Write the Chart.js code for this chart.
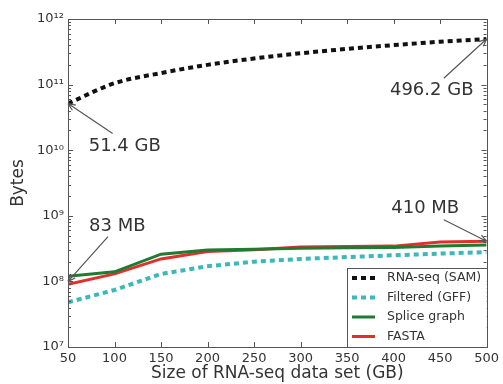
<!DOCTYPE html>
<html>
<head>
<meta charset="utf-8">
<script src="https://cdn.jsdelivr.net/npm/chart.js@4"></script>
<style>
  html, body { margin: 0; padding: 0; background: #fff; }
  #wrap { width: 503px; height: 384px; }
</style>
</head>
<body>
<div id="wrap"><canvas id="sizeChart"></canvas></div>
<script>
// x positions (GB of RNA-seq data)
const sizes = [50, 100, 150, 200, 250, 300, 350, 400, 450, 500];
// bytes
const samBytes = [51.4e9, 105e9, 150e9, 200e9, 250e9, 300e9, 350e9, 400e9, 450e9, 496.2e9];
const gffBytes = [4.8e7, 7.4e7, 1.3e8, 1.7e8, 2.0e8, 2.2e8, 2.35e8, 2.5e8, 2.65e8, 2.8e8];
const spliceBytes = [1.2e8, 1.4e8, 2.6e8, 3.0e8, 3.1e8, 3.2e8, 3.25e8, 3.3e8, 3.45e8, 3.6e8];
const fastaBytes = [0.9e8, 1.3e8, 2.2e8, 2.85e8, 3.05e8, 3.35e8, 3.4e8, 3.45e8, 4.0e8, 4.1e8];
const seriesNames = ['RNA-seq (SAM)', 'Filtered (GFF)', 'Splice graph', 'FASTA'];
const yTicks = [1e7, 1e8, 1e9, 1e10, 1e11, 1e12];
const yTickLabels = ['10⁷', '10⁸', '10⁹', '10¹⁰', '10¹¹', '10¹²'];
const xTicks = [50, 100, 150, 200, 250, 300, 350, 400, 450, 500];
// callouts: text, where the text sits, arrow start, arrow end (data coords)
const notes = [
  { text: '51.4 GB', at: [111, 1.15e10], from: [98, 1.8e10], to: [50, 51.4e9] },
  { text: '496.2 GB', at: [441, 8.3e10], from: [454, 1.25e11], to: [500, 496.2e9] },
  { text: '83 MB', at: [103, 6.8e8], from: [93, 4.8e8], to: [50, 1.0e8] },
  { text: '410 MB', at: [434, 1.32e9], from: [454, 8.7e8], to: [500, 4.1e8] }
];

const txt = '#333';

const framePlugin = {
  id: 'frame',
  afterDatasetsDraw(chart) {
    const ctx = chart.ctx;
    const a = chart.chartArea;
    const xs = chart.scales.x, ys = chart.scales.y;
    ctx.save();
    ctx.strokeStyle = '#555';
    ctx.lineWidth = 1;
    ctx.beginPath();
    // major x ticks, bottom and top, inward
    xTicks.forEach(v => {
      const px = Math.round(xs.getPixelForValue(v)) + 0.5;
      ctx.moveTo(px, a.bottom); ctx.lineTo(px, a.bottom - 5);
      ctx.moveTo(px, a.top); ctx.lineTo(px, a.top + 5);
    });
    // log ticks on y, left and right
    for (let e = 7; e <= 12; e++) {
      for (let m = 1; m <= 9; m++) {
        const v = m * Math.pow(10, e);
        if (v > 1e12) break;
        const py = Math.round(ys.getPixelForValue(v)) + 0.5;
        const len = m === 1 ? 5 : 3;
        ctx.moveTo(a.left, py); ctx.lineTo(a.left + len, py);
        ctx.moveTo(a.right, py); ctx.lineTo(a.right - len, py);
      }
    }
    ctx.stroke();
    ctx.strokeRect(Math.round(a.left) + 0.5, Math.round(a.top) + 0.5,
      Math.round(a.right - a.left), Math.round(a.bottom - a.top));

    // callouts
    ctx.font = '18px "DejaVu Sans"';
    ctx.fillStyle = txt;
    ctx.textAlign = 'center';
    ctx.textBaseline = 'middle';
    notes.forEach(n => {
      const tx = xs.getPixelForValue(n.at[0]), ty = ys.getPixelForValue(n.at[1]);
      const fx = xs.getPixelForValue(n.from[0]), fy = ys.getPixelForValue(n.from[1]);
      const hx = xs.getPixelForValue(n.to[0]), hy = ys.getPixelForValue(n.to[1]);
      ctx.fillText(n.text, tx, ty);
      ctx.strokeStyle = '#555';
      ctx.lineWidth = 1.2;
      ctx.beginPath();
      ctx.moveTo(fx, fy); ctx.lineTo(hx, hy);
      const ang = Math.atan2(hy - fy, hx - fx);
      ctx.moveTo(hx, hy);
      ctx.lineTo(hx - 8 * Math.cos(ang - 0.4), hy - 8 * Math.sin(ang - 0.4));
      ctx.moveTo(hx, hy);
      ctx.lineTo(hx - 8 * Math.cos(ang + 0.4), hy - 8 * Math.sin(ang + 0.4));
      ctx.stroke();
    });

    // legend box in lower right
    const bx = 347, by = 268, bw = a.right - bx, bh = a.bottom - by;
    ctx.fillStyle = '#fff';
    ctx.fillRect(bx, by, bw, bh);
    ctx.strokeStyle = '#555';
    ctx.lineWidth = 1;
    ctx.strokeRect(bx + 0.5, by + 0.5, Math.round(bw), Math.round(bh));
    ctx.font = '12.5px "DejaVu Sans"';
    ctx.textAlign = 'left';
    chart.data.datasets.forEach((ds, i) => {
      const ry = by + 10 + i * 19.5;
      ctx.strokeStyle = ds.borderColor;
      ctx.lineWidth = ds.borderWidth;
      ctx.setLineDash(ds.borderDash || []);
      ctx.beginPath();
      ctx.moveTo(352, ry); ctx.lineTo(375, ry);
      ctx.stroke();
      ctx.setLineDash([]);
      ctx.fillStyle = txt;
      ctx.fillText(ds.label, 387, ry);
    });
    ctx.restore();
  }
};

new Chart(document.getElementById('sizeChart'), {
  type: 'line',
  data: {
    datasets: [
      {
        label: seriesNames[0],
        data: sizes.map((x, i) => ({ x: x, y: samBytes[i] })),
        borderColor: '#111', borderWidth: 4, borderDash: [5, 4],
        cubicInterpolationMode: 'monotone'
      },
      {
        label: seriesNames[1],
        data: sizes.map((x, i) => ({ x: x, y: gffBytes[i] })),
        borderColor: '#3bb8b8', borderWidth: 4, borderDash: [5, 4]
      },
      {
        label: seriesNames[2],
        data: sizes.map((x, i) => ({ x: x, y: spliceBytes[i] })),
        borderColor: '#1f7a32', borderWidth: 3
      },
      {
        label: seriesNames[3],
        data: sizes.map((x, i) => ({ x: x, y: fastaBytes[i] })),
        borderColor: '#e0302e', borderWidth: 3
      }
    ]
  },
  options: {
    responsive: true,
    maintainAspectRatio: false,
    animation: false,
    layout: { padding: { top: 19, right: 13, left: 0, bottom: 0 } },
    elements: { point: { radius: 0 } },
    plugins: {
      legend: { display: false },
      tooltip: { enabled: false }
    },
    scales: {
      x: {
        type: 'linear', min: 50, max: 500,
        afterBuildTicks: s => { s.ticks = xTicks.map(v => ({ value: v })); },
        afterFit: s => { s.height = 37; },
        grid: { display: false, drawTicks: false },
        border: { display: false },
        ticks: { color: txt, font: { family: 'DejaVu Sans', size: 13 }, padding: 4, maxRotation: 0 },
        title: { display: true, text: 'Size of RNA-seq data set (GB)', color: txt,
          font: { family: 'DejaVu Sans', size: 17 }, padding: { top: 0, bottom: 0 } }
      },
      y: {
        type: 'logarithmic', min: 1e7, max: 1e12,
        afterBuildTicks: s => { s.ticks = yTicks.map(v => ({ value: v })); },
        afterFit: s => { s.width = 68; },
        grid: { display: false, drawTicks: false },
        border: { display: false },
        ticks: {
          color: txt, font: { family: 'DejaVu Sans', size: 13 }, padding: 4,
          callback: (v) => yTickLabels[yTicks.indexOf(v)]
        },
        title: { display: true, text: 'Bytes', color: txt,
          font: { family: 'DejaVu Sans', size: 17 }, padding: { top: 8, bottom: 0 } }
      }
    }
  },
  plugins: [framePlugin]
});
</script>
</body>
</html>
